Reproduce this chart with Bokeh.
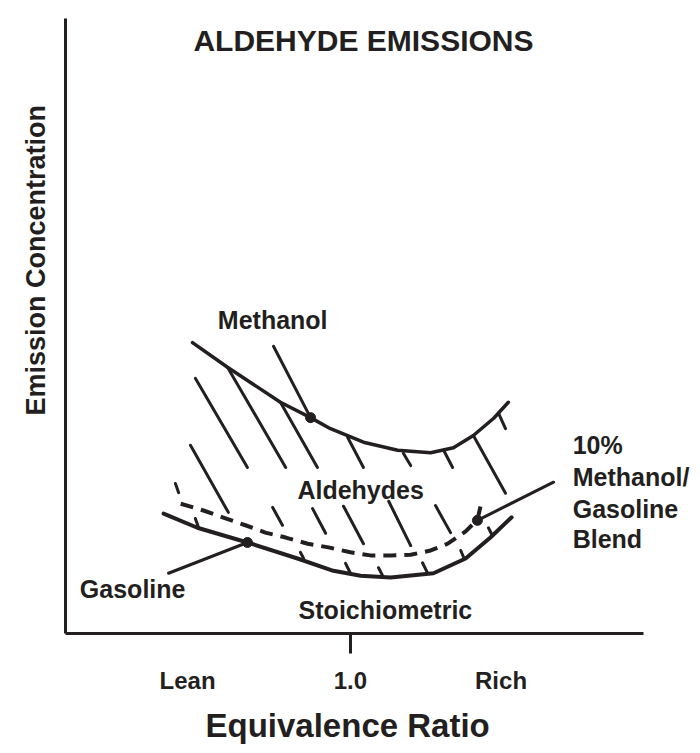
from bokeh.plotting import figure
from bokeh.models import Range1d, FixedTicker, Label, Title
from bokeh.embed import file_html
from bokeh.resources import INLINE

FONT = "Liberation Sans"
INK = "#231f20"

# x: equivalence ratio, y: relative emission concentration (schematic units)
methanol_phi = [0.612, 0.698, 0.828, 0.902, 0.951, 1.032, 1.116, 1.197, 1.253, 1.302, 1.352, 1.388]
methanol_conc = [47.3, 43.3, 37.6, 35.1, 33.3, 31.1, 29.8, 29.4, 30.2, 32.2, 35.0, 37.6]

gasoline_phi = [0.541, 0.624, 0.747, 0.870, 0.958, 1.025, 1.099, 1.204, 1.283, 1.344, 1.396]
gasoline_conc = [19.5, 17.2, 14.8, 12.2, 10.2, 9.4, 9.1, 9.8, 12.2, 15.6, 18.9]

blend_phi = [0.583, 0.639, 0.686, 0.742, 0.791, 0.841, 0.895, 0.946, 1.000, 1.049,
             1.099, 1.148, 1.197, 1.239, 1.283, 1.312, 1.320]
blend_conc = [21.1, 20.0, 18.9, 17.6, 16.4, 15.6, 14.6, 14.0, 13.2, 12.7,
              12.7, 12.8, 13.5, 14.6, 16.6, 18.5, 20.8]

# hatching of the aldehyde region
hatch_phi0 = [0.619, 0.698, 0.828, 0.607, 0.993, 1.130, 1.229, 1.302, 1.364,
              0.570, 0.809, 0.907, 0.983, 1.094, 1.209]
hatch_conc0 = [41.5, 43.3, 37.6, 30.6, 31.9, 29.3, 29.8, 32.2, 35.8,
               24.4, 20.5, 20.3, 20.7, 21.5, 20.8]
hatch_phi1 = [0.747, 0.841, 0.919, 0.700, 1.032, 1.148, 1.251, 1.381, 1.381,
              0.578, 0.833, 0.939, 1.032, 1.148, 1.246]
hatch_conc1 = [27.0, 27.0, 27.0, 19.7, 27.0, 27.3, 27.0, 22.8, 33.3,
               22.9, 17.6, 16.3, 14.6, 14.3, 16.4]

# small ticks on the gasoline curve
tick_phi0 = [0.627, 0.885, 1.000, 1.079, 1.189, 1.278, 1.349]
tick_conc0 = [17.2, 12.2, 9.8, 9.4, 9.9, 12.4, 15.9]
tick_phi1 = [0.619, 0.877, 0.988, 1.069, 1.177, 1.271, 1.339]
tick_conc1 = [18.7, 13.2, 11.4, 10.7, 11.5, 13.5, 17.2]

# junction dots and leader lines
dot_phi = [0.902, 0.747, 1.312]
dot_conc = [35.1, 14.8, 18.4]
leader_phi_end = [0.811, 0.553, 1.499]
leader_conc_end = [46.7, 9.8, 24.6]

# tick labels of the equivalence-ratio axis
x_ticks = [0.6, 1.0, 1.37]
x_tick_labels = ["Lean", "1.0", "Rich"]

# in-plot labels
label_texts = ["Methanol", "Aldehydes", "Gasoline", "Stoichiometric"]
label_phi = [0.809, 1.025, 0.465, 1.086]
label_conc = [50.9, 23.4, 7.2, 3.9]

blend_lines = ["10%", "Methanol/", "Gasoline", "Blend"]
blend_label_phi = 1.546
blend_label_conc = [30.6, 25.4, 20.2, 15.4]

title_text = "ALDEHYDE EMISSIONS"
y_title = "Emission Concentration"
x_title = "Equivalence Ratio"

p = figure(width=700, height=753, output_backend="svg", toolbar_location=None,
           x_range=Range1d(0.30, 1.86), y_range=Range1d(0, 100),
           min_border_left=65, min_border_right=0, min_border_top=18,
           min_border_bottom=120)
p.outline_line_color = None
p.xgrid.visible = False
p.ygrid.visible = False

# axes
ya = p.yaxis[0]
ya.ticker = FixedTicker(ticks=[])
ya.bounds = (0, 100)
ya.axis_line_width = 3
ya.axis_line_color = INK
ya.major_tick_line_color = None
ya.minor_tick_line_color = None
ya.major_label_text_font_size = "0px"

xa = p.xaxis[0]
xa.ticker = FixedTicker(ticks=x_ticks, minor_ticks=[1.0])
xa.bounds = (0.30, 1.72)
xa.major_label_overrides = {t: s for t, s in zip(x_ticks, x_tick_labels)}
xa.axis_line_width = 3
xa.axis_line_color = INK
xa.major_tick_line_color = None
xa.major_tick_out = 0
xa.major_tick_in = 0
xa.minor_tick_out = 20
xa.minor_tick_in = 0
xa.minor_tick_line_width = 3
xa.minor_tick_line_color = INK
xa.major_label_standoff = 13
xa.major_label_text_font = FONT
xa.major_label_text_font_style = "bold"
xa.major_label_text_font_size = "24px"
xa.major_label_text_color = INK

# axis titles, placed off-centre like the original
p.add_layout(Title(text=x_title, align="left", offset=140, standoff=17,
                   text_font=FONT, text_font_style="bold", text_font_size="33px",
                   text_color=INK), "below")
p.add_layout(Title(text=y_title, align="left", offset=218, standoff=30,
                   text_font=FONT, text_font_style="bold", text_font_size="27px",
                   text_color=INK), "left")

# curves
p.line(methanol_phi, methanol_conc, line_width=3.5, line_color=INK, line_join="round", line_cap="round")
p.line(gasoline_phi, gasoline_conc, line_width=4, line_color=INK, line_join="round", line_cap="round")
p.line(blend_phi, blend_conc, line_width=4, line_color=INK, line_dash="13 8", line_join="round")

p.segment(hatch_phi0, hatch_conc0, hatch_phi1, hatch_conc1, line_width=3, line_color=INK, line_cap="round")
p.segment(tick_phi0, tick_conc0, tick_phi1, tick_conc1, line_width=3, line_color=INK, line_cap="round")
p.segment(dot_phi, dot_conc, leader_phi_end, leader_conc_end, line_width=3, line_color=INK, line_cap="round")
p.scatter(dot_phi, dot_conc, size=10, color=INK)

# texts
def add_label(x, y, text, size, align="center"):
    p.add_layout(Label(x=x, y=y, text=text, text_font=FONT, text_font_style="bold",
                       text_font_size=size, text_color=INK,
                       text_align=align, text_baseline="middle"))

add_label(1.032, 96.4, title_text, "30px")
for t, x, y in zip(label_texts, label_phi, label_conc):
    add_label(x, y, t, "25px")
for t, y in zip(blend_lines, blend_label_conc):
    add_label(blend_label_phi, y, t, "25px", align="left")

open("out.html", "w").write(file_html(p, INLINE))
